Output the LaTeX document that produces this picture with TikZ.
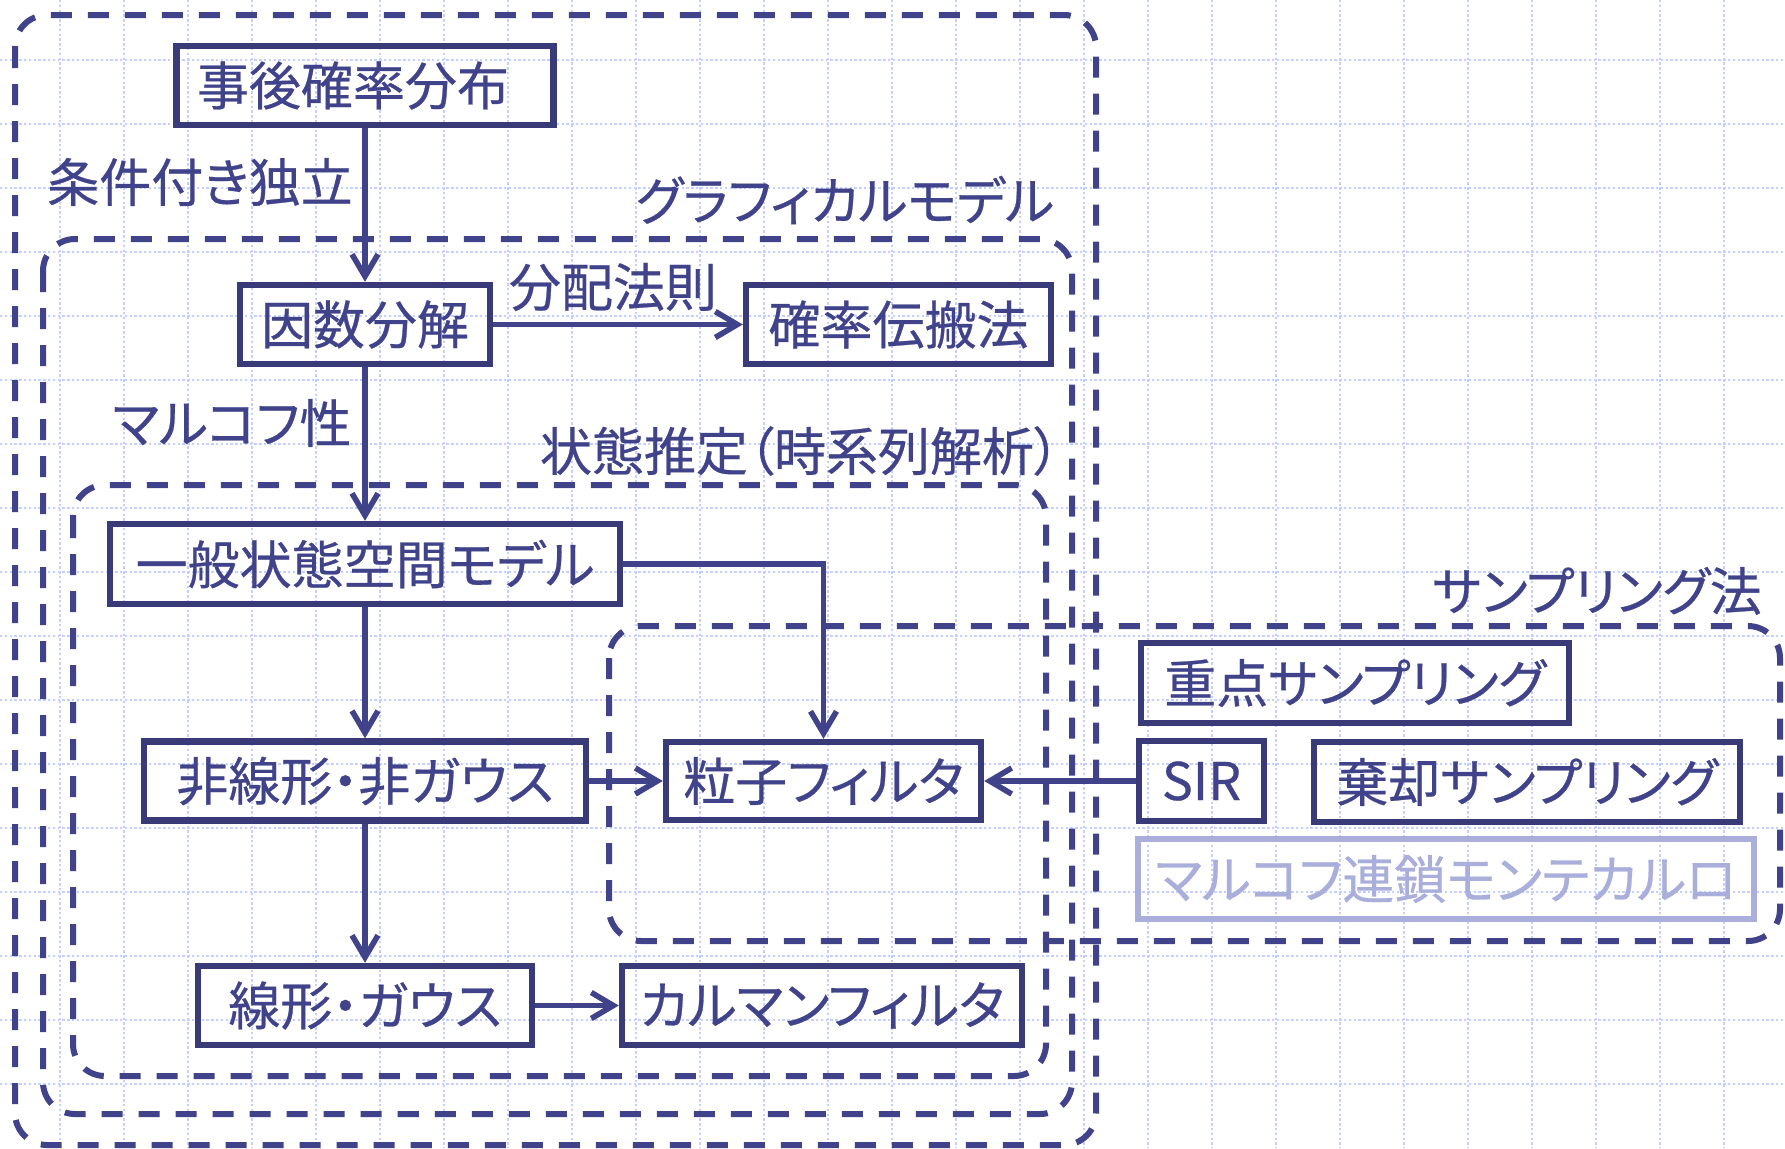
\documentclass[tikz,border=0pt]{standalone}
\usepackage{fontspec}
\setmainfont[RawFeature={+palt}, FakeBold=0.5]{Noto Sans CJK JP}
\usetikzlibrary{arrows.meta}
\definecolor{navy}{RGB}{64,67,138}
\definecolor{boxline}{RGB}{56,59,120}
\definecolor{lightbox}{RGB}{170,174,218}
\definecolor{gridc}{RGB}{195,208,255}
\begin{document}
\begin{tikzpicture}[x=0.5pt,y=-0.5pt,
  gridline/.style={gridc, line width=1.1pt, dash pattern=on 1.2pt off 1.2pt},
  cont/.style={navy, line width=3pt, dash pattern=on 10.5pt off 8pt, rounded corners=16pt},
  box/.style={draw=boxline, line width=3.2pt, inner sep=0pt, text=navy, font=\fontsize{26pt}{30pt}\selectfont, minimum height=39.5pt},
  lbox/.style={box, draw=lightbox, text=lightbox},
  lbl/.style={inner sep=0pt, text=navy, font=\fontsize{26pt}{30pt}\selectfont},
  arr/.style={navy, line width=2.8pt, -{Straight Barb[length=11pt, width=13pt, line width=2.8pt]}}
]
\useasboundingbox (0,0) rectangle (1785,1148);
\fill[white] (0,0) rectangle (1785,1148);
\foreach \i in {0,...,26} \draw[gridline] ({60+64*\i},0) -- ({60+64*\i},1148);
\foreach \i in {0,...,16} \draw[gridline] (0,{60+64*\i}) -- (1785,{60+64*\i});

% containers
\draw[cont] (15,15) rectangle (1096,1145);
\draw[cont] (43,239) rectangle (1072,1114);
\draw[cont] (73,485) rectangle (1046,1076);
\draw[cont] (609,626) rectangle (1780,941);

% container labels and edge labels
\node[lbl] (lcond) at (200,182) {条件付き独立};
\node[lbl] (lgm) at (845,200) {グラフィカルモデル};
\node[lbl] (ldist) at (613,287) {分配法則};
\node[lbl] (lmark) at (232,423) {マルコフ性};
\node[lbl] (lstate) at (800,451) {状態推定（時系列解析）};
\node[lbl] (lsamp) at (1597,591) {サンプリング法};

% nodes
\node[box, minimum width=188.5pt] (post) at (365,85.5) {\hspace*{-12pt}事後確率分布};
\node[box, minimum width=125pt] (fact) at (365,324.5) {因数分解};
\node[box, minimum width=152.5pt] (bp) at (898.5,324.5) {確率伝搬法};
\node[box, minimum width=255pt, minimum height=40pt] (ssm) at (365,564) {一般状態空間モデル};
\node[box, minimum width=221pt] (nl) at (365,781) {非線形・非ガウス};
\node[box, minimum width=157.5pt, minimum height=39pt] (pf) at (823.5,781) {粒子フィルタ};
\node[box, minimum width=167pt] (lin) at (365,1005.5) {線形・ガウス};
\node[box, minimum width=200pt] (kf) at (822,1005.5) {カルマンフィルタ};
\node[box, minimum width=214pt, minimum height=40pt] (is) at (1355,683) {重点サンプリング};
\node[box, minimum width=62.5pt, minimum height=40pt] (sir) at (1201.5,781) {SIR};
\node[box, minimum width=213pt, minimum height=40pt] (rs) at (1527,782) {棄却サンプリング};
\node[lbox, minimum width=308pt, minimum height=40pt] (mcmc) at (1446,879) {マルコフ連鎖モンテカルロ};

% connectors
\draw[arr] (post.south) -- (fact.north);
\draw[arr] (fact.east) -- (bp.west);
\draw[arr] (fact.south) -- (ssm.north);
\draw[arr] (ssm.east) -| (pf.north);
\draw[arr] (ssm.south) -- (nl.north);
\draw[arr] (nl.east) -- (pf.west);
\draw[arr] (nl.south) -- (lin.north);
\draw[arr] (lin.east) -- (kf.west);
\draw[arr] (sir.west) -- (pf.east);
\end{tikzpicture}
\end{document}
